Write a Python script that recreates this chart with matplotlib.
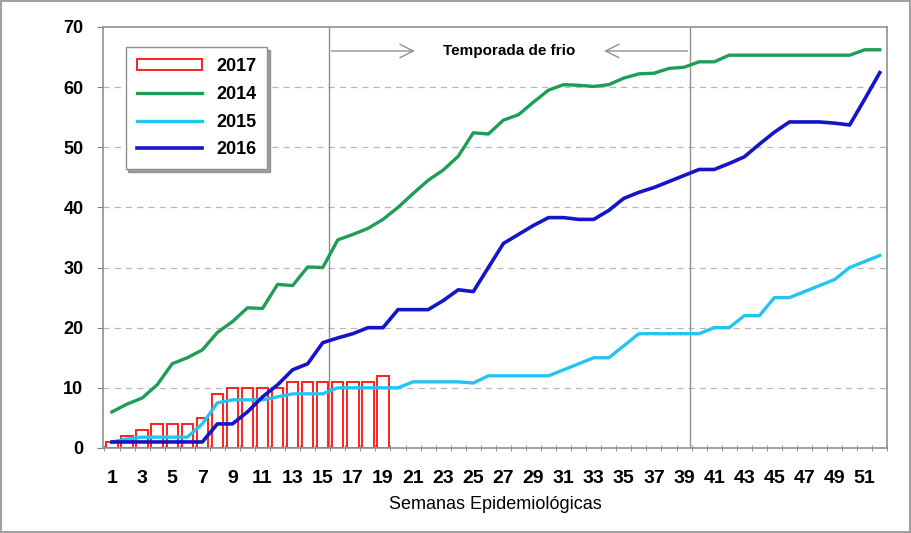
import numpy as np
import matplotlib
matplotlib.use("Agg")
import matplotlib.pyplot as plt

# -----------------------------
# datos (casos acumulados por semana epidemiológica)
# -----------------------------
semanas = list(range(1, 53))
semanas_2017 = list(range(1, 20))

casos_2017 = [1, 2, 3, 4, 4, 4, 5, 9, 10, 10, 10, 10, 11, 11, 11, 11, 11, 11, 12]

casos_2014 = [6, 7.3, 8.3, 10.5, 14, 15, 16.3, 19.2, 21, 23.3, 23.2, 27.2, 27, 30.1,
              30, 34.6, 35.5, 36.5, 38, 40, 42.3, 44.5, 46.2, 48.5, 52.4, 52.2, 54.5,
              55.4, 57.5, 59.5, 60.4, 60.3, 60.1, 60.4, 61.5, 62.2, 62.3, 63.1, 63.3,
              64.2, 64.2, 65.3, 65.3, 65.3, 65.3, 65.3, 65.3, 65.3, 65.3, 65.3, 66.2, 66.2]

casos_2015 = [1, 1.5, 1.8, 1.8, 1.8, 1.8, 4, 7.5, 8, 8, 8, 8.5, 9, 9, 9, 10, 10, 10,
              10, 10, 11, 11, 11, 11, 10.8, 12, 12, 12, 12, 12, 13, 14, 15, 15, 17, 19,
              19, 19, 19, 19, 20, 20, 22, 22, 25, 25, 26, 27, 28, 30, 31, 32]

casos_2016 = [1, 1, 1, 1, 1, 1, 1, 4, 4, 6, 8.5, 10.5, 13, 14, 17.5, 18.3, 19, 20, 20,
              23, 23, 23, 24.5, 26.3, 26, 30, 34, 35.5, 37, 38.3, 38.3, 38, 38, 39.5,
              41.5, 42.5, 43.3, 44.3, 45.3, 46.3, 46.3, 47.3, 48.4, 50.5, 52.5, 54.2,
              54.2, 54.2, 54, 53.7, 58, 62.4]

ticks_x = list(range(1, 52, 2))
ticks_y = list(range(0, 71, 10))
temporada = (15.4, 39.4)

# -----------------------------
# gráfico
# -----------------------------
plt.rcParams["font.family"] = ["Liberation Sans", "DejaVu Sans"]

fig = plt.figure(figsize=(9.11, 5.33), dpi=100)
fig.patch.set_edgecolor("#a0a0a0")
fig.patch.set_linewidth(1.5)
ax = fig.add_axes([0.113, 0.1595, 0.861, 0.790])

b17 = ax.bar(semanas_2017, casos_2017, width=0.75, facecolor="white",
             edgecolor="#ff2020", linewidth=1.4, label="2017", zorder=2)
l14, = ax.plot(semanas, casos_2014, color="#1e9e55", lw=2.4, label="2014", zorder=3)
l15, = ax.plot(semanas, casos_2015, color="#22c4f0", lw=2.4, label="2015", zorder=3)
l16, = ax.plot(semanas, casos_2016, color="#1414c8", lw=2.6, label="2016", zorder=3)

ax.set_xlim(0.4, 52.3)
ax.set_ylim(0, 70)
ax.set_xticks(ticks_x)
ax.set_xticks(np.arange(0.5, 53, 1), minor=True)
ax.set_yticks(ticks_y)
ax.tick_params(axis="x", which="major", length=0, pad=16, labelsize=14)
ax.tick_params(axis="x", which="minor", length=5, direction="inout", color="#808080")
ax.tick_params(axis="y", length=4, color="#808080", labelsize=13, pad=10)
for lbl in ax.get_yticklabels() + ax.get_xticklabels():
    lbl.set_fontweight("bold")

for y in ticks_y[1:-1]:
    ax.axhline(y, color="#b8b8b8", lw=0.9, ls=(0, (5, 4)), zorder=1)

for s in ax.spines.values():
    s.set_color("#909090")
    s.set_linewidth(1.2)

# temporada de frio
for x in temporada:
    ax.axvline(x, color="#909090", lw=1.0, zorder=1)
ax.annotate("", xy=(21.3, 66.0), xytext=(temporada[0], 66.0),
            arrowprops=dict(arrowstyle="->", color="#909090", lw=1.0,
                            mutation_scale=24))
ax.annotate("", xy=(33.5, 66.0), xytext=(temporada[1], 66.0),
            arrowprops=dict(arrowstyle="->", color="#909090", lw=1.0,
                            mutation_scale=24))
ax.text(27.4, 66.0, "Temporada de frio", ha="center", va="center",
        fontsize=11, fontweight="bold")

ax.set_xlabel("Semanas Epidemiológicas", fontsize=13, labelpad=6)

leg = ax.legend([b17, l14, l15, l16], ["2017", "2014", "2015", "2016"],
                loc="upper left", bbox_to_anchor=(0.029, 0.952), borderaxespad=0,
                prop={"size": 13, "weight": "bold"},
                frameon=True, fancybox=False, shadow=True, handlelength=3.6,
                handleheight=0.6, labelspacing=0.6, borderpad=0.6)
leg.get_frame().set_edgecolor("#909090")
leg.get_frame().set_linewidth(1.0)

fig.savefig("out.png", dpi=100)
